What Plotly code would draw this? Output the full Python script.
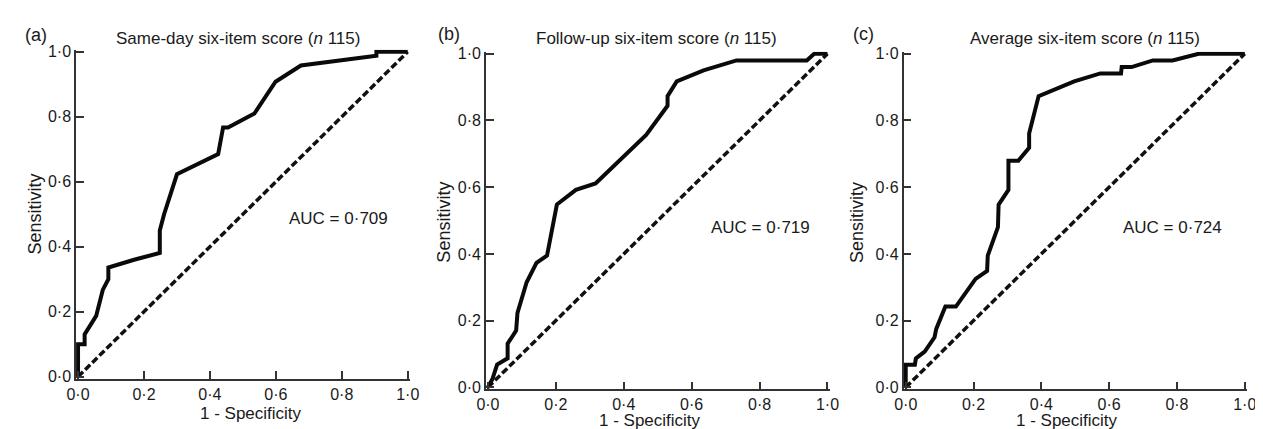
import plotly.graph_objects as go

# ---------------- data ----------------
fpr_a = [0.0, 0.0, 0.02, 0.02, 0.055, 0.075, 0.092, 0.092, 0.17, 0.248, 0.248, 0.261, 0.30,
         0.425, 0.44, 0.455, 0.535, 0.599, 0.676, 0.773, 0.905, 0.905, 1.0]
tpr_a = [0.0, 0.10, 0.10, 0.13, 0.187, 0.267, 0.30, 0.336, 0.36, 0.381, 0.45, 0.50, 0.623,
         0.685, 0.767, 0.767, 0.81, 0.908, 0.958, 0.971, 0.988, 1.0, 1.0]

fpr_b = [0.0, 0.013, 0.027, 0.058, 0.058, 0.083, 0.087, 0.114, 0.143, 0.174, 0.203, 0.259,
         0.317, 0.466, 0.529, 0.529, 0.556, 0.635, 0.732, 0.939, 0.961, 1.0]
tpr_b = [0.0, 0.024, 0.068, 0.087, 0.131, 0.17, 0.223, 0.315, 0.373, 0.395, 0.548, 0.592,
         0.611, 0.757, 0.844, 0.873, 0.917, 0.95, 0.98, 0.98, 1.0, 1.0]

fpr_c = [0.0, 0.0, 0.027, 0.03, 0.056, 0.085, 0.09, 0.117, 0.148, 0.206, 0.24, 0.242, 0.272,
         0.274, 0.303, 0.303, 0.332, 0.364, 0.364, 0.392, 0.497, 0.574, 0.635, 0.637, 0.666,
         0.729, 0.787, 0.864, 1.0]
tpr_c = [0.0, 0.068, 0.068, 0.087, 0.107, 0.15, 0.175, 0.242, 0.242, 0.325, 0.349, 0.395, 0.48,
         0.548, 0.592, 0.679, 0.679, 0.718, 0.761, 0.873, 0.917, 0.941, 0.941, 0.96, 0.96,
         0.98, 0.98, 1.0, 1.0]

ref_line = [0.0, 1.0]

panel_labels = ["(a)", "(b)", "(c)"]
panel_titles = ["Same-day six-item score (<i>n</i> 115)",
                "Follow-up six-item score (<i>n</i> 115)",
                "Average six-item score (<i>n</i> 115)"]
auc_texts = ["AUC = 0·709", "AUC = 0·719", "AUC = 0·724"]
x_title = "1 - Specificity"
y_title = "Sensitivity"
tick_vals = [0.0, 0.2, 0.4, 0.6, 0.8, 1.0]
tick_text = ["0·0", "0·2", "0·4", "0·6", "0·8", "1·0"]

# ---------------- layout ----------------
W, H = 1263, 429
FONT = "Liberation Sans, Arial, sans-serif"
TXT = "#1a1a1a"
PAD = 0.006

# pixel boxes (x0, x1, ytop, ybottom) of the data range 0..1
boxes = [(61, 396, 39, 374), (477.5, 822.5, 41, 385), (902, 1246.5, 41, 385)]
label_pos = [(5, 22), (425, 21), (846, 21)]
title_pos = [(224, 25), (649, 25), (1084, 25)]
xtitle_pos = [(237, 412), (642, 419), (1066, 419)]
ytitle_pos = [(17, 206), (433, 215), (853, 215)]
auc_pos = [(0.634, 0.486), (0.65, 0.48), (0.635, 0.48)]

curves = [(fpr_a, tpr_a), (fpr_b, tpr_b), (fpr_c, tpr_c)]

fig = go.Figure()
annotations = []

for i, ((fx, ty), (x0, x1, yt, yb)) in enumerate(zip(curves, boxes)):
    n = "" if i == 0 else str(i + 1)
    xa, ya = "x" + n, "y" + n
    fig.add_trace(go.Scatter(x=ref_line, y=ref_line, mode="lines", xaxis=xa, yaxis=ya,
                             line=dict(color="#111111", width=3.5, dash="7px,3px"),
                             showlegend=False, hoverinfo="skip"))
    fig.add_trace(go.Scatter(x=fx, y=ty, mode="lines", xaxis=xa, yaxis=ya,
                             line=dict(color="#0a0a0a", width=4),
                             showlegend=False))
    w = x1 - x0
    h = yb - yt
    dx0 = (x0 - PAD * w) / W
    dx1 = (x1 + PAD * w) / W
    dy0 = 1 - (yb + PAD * h) / H
    dy1 = 1 - (yt - PAD * h) / H
    common = dict(showgrid=False, zeroline=False, showline=True, linecolor="#333333",
                  linewidth=1.5, ticks="inside", ticklen=8, tickwidth=1.5, tickcolor="#333333",
                  tickvals=tick_vals, ticktext=tick_text, range=[-PAD, 1 + PAD],
                  tickfont=dict(family=FONT, size=16, color=TXT), fixedrange=True)
    fig.update_layout(**{
        "xaxis" + n: dict(domain=[dx0, dx1], anchor=ya, **common),
        "yaxis" + n: dict(domain=[dy0, dy1], anchor=xa, **common),
    })

    lx, ly = label_pos[i]
    annotations.append(dict(text=panel_labels[i], x=lx / W, y=1 - ly / H, xref="paper", yref="paper",
                            xanchor="left", yanchor="middle", showarrow=False,
                            font=dict(family=FONT, size=18, color=TXT)))
    tx, tyy = title_pos[i]
    annotations.append(dict(text=panel_titles[i], x=tx / W, y=1 - tyy / H, xref="paper", yref="paper",
                            xanchor="center", yanchor="middle", showarrow=False,
                            font=dict(family=FONT, size=17, color=TXT)))
    xx, xy = xtitle_pos[i]
    annotations.append(dict(text=x_title, x=xx / W, y=1 - xy / H, xref="paper", yref="paper",
                            xanchor="center", yanchor="middle", showarrow=False,
                            font=dict(family=FONT, size=17, color=TXT)))
    yx, yy = ytitle_pos[i]
    annotations.append(dict(text=y_title, x=yx / W, y=1 - yy / H, xref="paper", yref="paper",
                            xanchor="center", yanchor="middle", showarrow=False, textangle=-90,
                            font=dict(family=FONT, size=18, color=TXT)))
    ax_, ay_ = auc_pos[i]
    annotations.append(dict(text=auc_texts[i], x=ax_, y=ay_, xref=xa, yref=ya,
                            xanchor="left", yanchor="middle", showarrow=False,
                            font=dict(family=FONT, size=17, color=TXT)))

fig.update_layout(width=W, height=H, margin=dict(l=0, r=0, t=0, b=0),
                  paper_bgcolor="white", plot_bgcolor="white",
                  annotations=annotations, showlegend=False)

fig.write_html("out.html", config={"displayModeBar": False})
